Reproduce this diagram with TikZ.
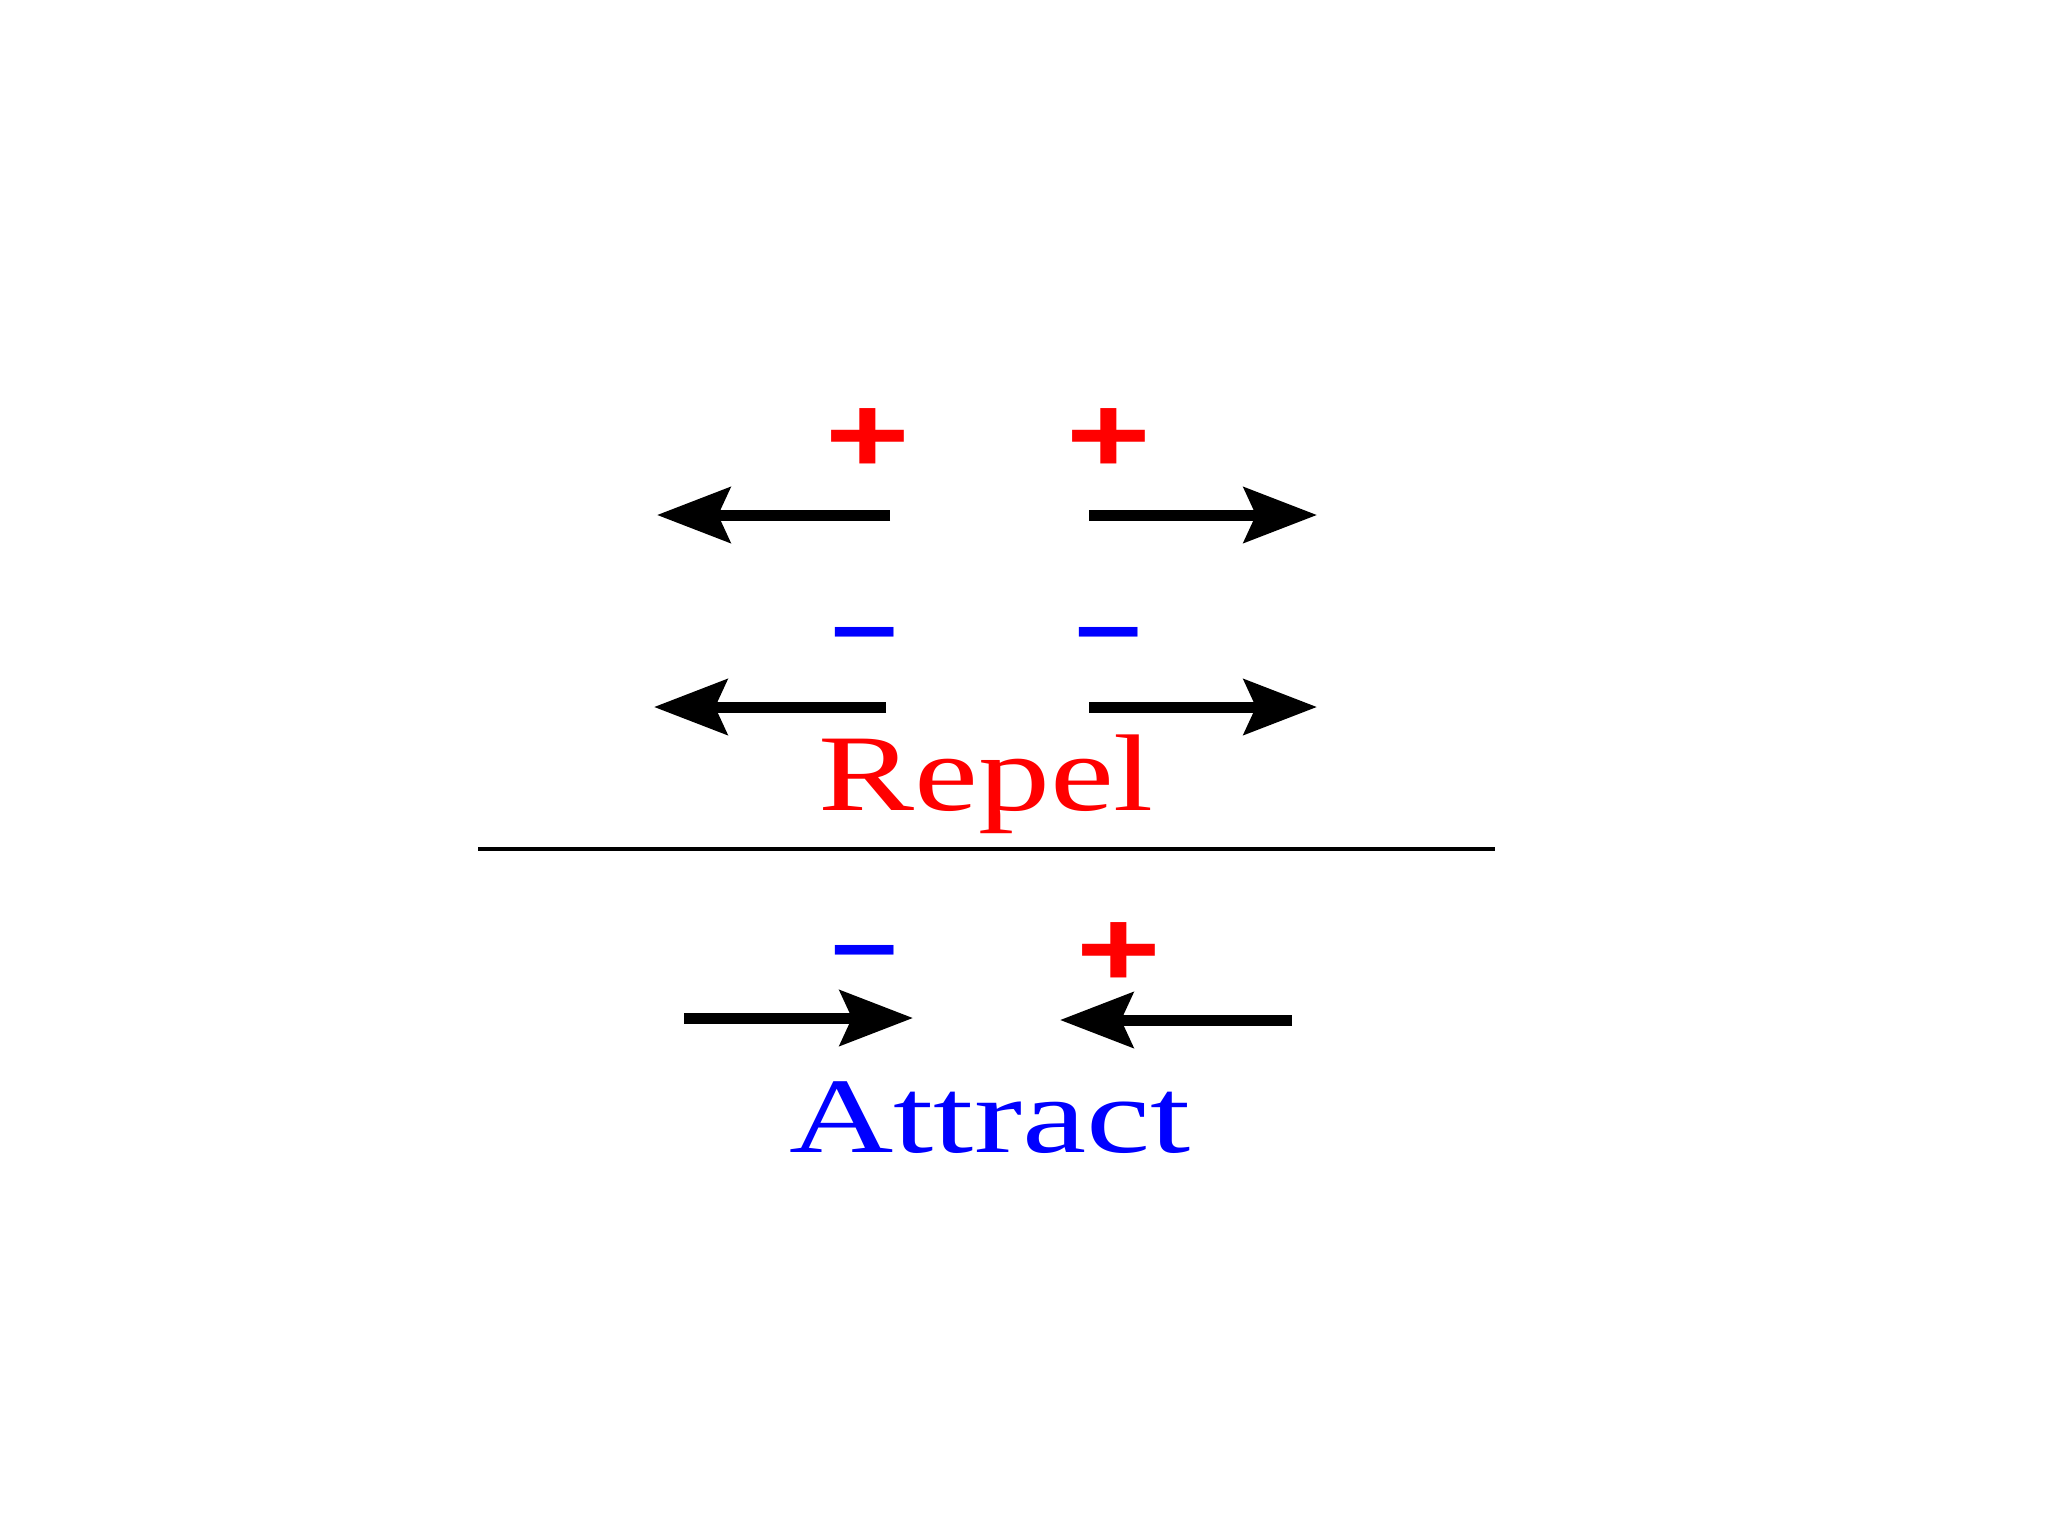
\documentclass[tikz,border=0pt]{standalone}
\usepackage{fontspec}
\setmainfont{Liberation Serif}
\newfontfamily\signfont{Liberation Sans}
\usetikzlibrary{arrows.meta}
\definecolor{sred}{RGB}{255,0,0}
\definecolor{sblue}{RGB}{0,0,255}
\tikzset{
  force/.style={line width=0.11cm, black, -{Stealth[length=0.73cm, width=0.55cm, inset=0.12cm]}},
  plussign/.style={inner sep=0pt, anchor=base, text=sred, xscale=1.33, font=\signfont\bfseries\fontsize{31}{31}\selectfont},
  minussign/.style={inner sep=0pt, anchor=base, text=sblue, xscale=1.33, font=\signfont\bfseries\fontsize{25}{25}\selectfont},
  bigword/.style={inner sep=0pt, anchor=base, xscale=1.32}
}
\begin{document}
\begin{tikzpicture}[x=0.01cm, y=-0.01cm]
\useasboundingbox[fill=white] (0,0) rectangle (2048,1536);
% top row: + +
\node[plussign] (p1) at (868,472) {+};
\node[plussign] (p2) at (1109,472) {+};
\coordinate (a1s) at (890,515); \coordinate (a1t) at (657,515);
\coordinate (a2s) at (1089,515); \coordinate (a2t) at (1317,515);
\draw[force] (a1s) -- (a1t);
\draw[force] (a2s) -- (a2t);
% second row: - -
\node[minussign] (m1) at (865,661) {−};
\node[minussign] (m2) at (1109,661) {−};
\coordinate (b1s) at (886,707); \coordinate (b1t) at (654,707);
\coordinate (b2s) at (1089,707); \coordinate (b2t) at (1317,707);
\draw[force] (b1s) -- (b1t);
\draw[force] (b2s) -- (b2t);
\node[bigword, text=sred, font=\fontsize{31}{31}\selectfont] (repel) at (986,810) {Repel};
% divider
\coordinate (dl) at (478,849); \coordinate (dr) at (1495,849);
\draw[line width=0.04cm] (dl) -- (dr);
% attract row
\node[minussign] (m3) at (865,979) {−};
\node[plussign] (p3) at (1119,986) {+};
\coordinate (c1s) at (684,1018); \coordinate (c1t) at (913,1018);
\coordinate (c2s) at (1292,1020); \coordinate (c2t) at (1060,1020);
\draw[force] (c1s) -- (c1t);
\draw[force] (c2s) -- (c2t);
\node[bigword, text=sblue, font=\fontsize{30.5}{30.5}\selectfont, xscale=1.02] (attract) at (990,1152) {Attract};
\end{tikzpicture}
\end{document}
